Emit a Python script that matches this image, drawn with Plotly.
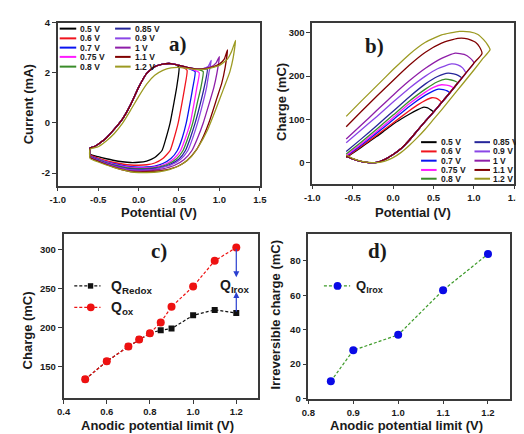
import plotly.graph_objects as go

W, H = 524, 434

# ---------------- Panel a: CV curves (Current vs Potential) ----------------
cv_labels = ["0.5 V", "0.6 V", "0.7 V", "0.75 V", "0.8 V", "0.85 V", "0.9 V", "1 V", "1.1 V", "1.2 V"]
cv_colors = ["#000000", "#f0141e", "#0a14f0", "#ff1aff", "#3a8c2a", "#26269a", "#8a46e6", "#8e1ea8", "#800000", "#9c9a22"]
cv_limits = [0.5, 0.6, 0.7, 0.75, 0.8, 0.85, 0.9, 1.0, 1.1, 1.2]

a_fwd_x = [-0.60, -0.55, -0.50, -0.40, -0.30, -0.20, -0.10, 0.00, 0.10, 0.20, 0.30, 0.40]
a_fwd_y = [-1.00, -0.95, -0.85, -0.60, -0.25, 0.15, 0.72, 1.42, 1.98, 2.25, 2.35, 2.37]

a05_x = [0.45, 0.50, 0.47, 0.44, 0.39, 0.34, 0.29, 0.20, 0.10, 0.00, -0.10, -0.20, -0.30, -0.40, -0.50, -0.60, -0.60]
a05_y = [2.35, 2.22, 1.40, 0.85, 0.00, -0.60, -1.10, -1.38, -1.52, -1.57, -1.58, -1.55, -1.50, -1.43, -1.35, -1.25, -1.00]
a06_x = [0.50, 0.55, 0.60, 0.57, 0.54, 0.49, 0.44, 0.39, 0.30, 0.20, 0.10, 0.00, -0.10, -0.20, -0.30, -0.40, -0.50, -0.60, -0.60]
a06_y = [2.30, 2.22, 2.10, 1.40, 0.85, 0.00, -0.60, -1.10, -1.42, -1.60, -1.67, -1.69, -1.68, -1.64, -1.58, -1.50, -1.40, -1.28, -1.00]
a07_x = [0.50, 0.60, 0.66, 0.70, 0.67, 0.64, 0.59, 0.54, 0.48, 0.40, 0.30, 0.20, 0.10, 0.00, -0.10, -0.20, -0.30, -0.40, -0.50, -0.60, -0.60]
a07_y = [2.30, 2.20, 2.12, 2.05, 1.40, 0.85, 0.00, -0.60, -1.10, -1.42, -1.62, -1.72, -1.76, -1.77, -1.75, -1.70, -1.63, -1.55, -1.44, -1.30, -1.00]
a075_x = [0.50, 0.60, 0.70, 0.75, 0.72, 0.69, 0.64, 0.58, 0.52, 0.44, 0.34, 0.20, 0.10, 0.00, -0.10, -0.20, -0.30, -0.40, -0.50, -0.60, -0.60]
a075_y = [2.30, 2.20, 2.10, 2.00, 1.40, 0.85, 0.00, -0.60, -1.10, -1.42, -1.63, -1.76, -1.79, -1.80, -1.78, -1.73, -1.66, -1.57, -1.46, -1.31, -1.00]
a08_x = [0.50, 0.60, 0.70, 0.77, 0.80, 0.77, 0.73, 0.67, 0.61, 0.55, 0.47, 0.36, 0.20, 0.10, 0.00, -0.10, -0.20, -0.30, -0.40, -0.50, -0.60, -0.60]
a08_y = [2.30, 2.22, 2.15, 2.10, 2.05, 1.40, 0.85, 0.00, -0.60, -1.10, -1.43, -1.65, -1.79, -1.82, -1.83, -1.81, -1.76, -1.68, -1.59, -1.47, -1.32, -1.00]
a085_x = [0.50, 0.60, 0.70, 0.80, 0.85, 0.81, 0.77, 0.70, 0.64, 0.58, 0.50, 0.38, 0.20, 0.10, 0.00, -0.10, -0.20, -0.30, -0.40, -0.50, -0.60, -0.60]
a085_y = [2.30, 2.22, 2.16, 2.15, 2.15, 1.40, 0.85, 0.00, -0.60, -1.10, -1.44, -1.67, -1.82, -1.85, -1.86, -1.84, -1.78, -1.70, -1.60, -1.48, -1.33, -1.00]
a09_x = [0.50, 0.60, 0.70, 0.80, 0.86, 0.90, 0.87, 0.84, 0.80, 0.73, 0.67, 0.61, 0.52, 0.40, 0.20, 0.10, 0.00, -0.10, -0.20, -0.30, -0.40, -0.50, -0.60, -0.60]
a09_y = [2.30, 2.22, 2.16, 2.17, 2.25, 2.50, 2.00, 1.40, 0.85, 0.00, -0.60, -1.10, -1.45, -1.68, -1.85, -1.88, -1.89, -1.87, -1.80, -1.72, -1.62, -1.50, -1.34, -1.00]
a10_x = [0.50, 0.60, 0.70, 0.80, 0.90, 0.96, 1.00, 0.97, 0.93, 0.88, 0.80, 0.73, 0.66, 0.56, 0.44, 0.30, 0.20, 0.10, 0.00, -0.10, -0.20, -0.30, -0.40, -0.50, -0.60, -0.60]
a10_y = [2.30, 2.22, 2.16, 2.17, 2.25, 2.40, 2.65, 2.00, 1.40, 0.85, 0.00, -0.60, -1.10, -1.47, -1.70, -1.83, -1.88, -1.91, -1.92, -1.90, -1.83, -1.74, -1.64, -1.51, -1.35, -1.00]
a11_x = [0.50, 0.60, 0.70, 0.80, 0.90, 1.00, 1.06, 1.10, 1.07, 1.03, 0.97, 0.88, 0.80, 0.71, 0.60, 0.48, 0.34, 0.20, 0.10, 0.00, -0.10, -0.20, -0.30, -0.40, -0.50, -0.60, -0.60]
a11_y = [2.30, 2.22, 2.16, 2.16, 2.22, 2.35, 2.55, 2.92, 2.20, 1.60, 1.00, 0.10, -0.55, -1.10, -1.50, -1.74, -1.87, -1.93, -1.95, -1.96, -1.94, -1.87, -1.77, -1.66, -1.53, -1.38, -1.00]
a12_x = [-0.60, -0.50, -0.40, -0.30, -0.20, -0.10, 0.00, 0.10, 0.20, 0.30, 0.40, 0.50, 0.60, 0.70, 0.80, 0.90, 1.00, 1.10, 1.15, 1.20,
         1.17, 1.13, 1.05, 0.95, 0.85, 0.75, 0.65, 0.52, 0.38, 0.25, 0.10, 0.00, -0.10, -0.20, -0.30, -0.40, -0.50, -0.60, -0.60]
a12_y = [-1.05, -0.95, -0.72, -0.42, -0.02, 0.50, 1.05, 1.55, 1.90, 2.10, 2.20, 2.22, 2.18, 2.14, 2.14, 2.20, 2.30, 2.55, 2.85, 3.30,
         2.60, 2.05, 1.35, 0.50, -0.30, -0.90, -1.35, -1.68, -1.86, -1.95, -1.98, -1.98, -1.95, -1.87, -1.78, -1.68, -1.56, -1.42, -1.05]

# ---------------- Panel b: Charge vs Potential ----------------
b_low_x = [-0.58, -0.50, -0.40, -0.30, -0.20, -0.10, 0.00, 0.10, 0.20, 0.30, 0.40, 0.50, 0.60, 0.70, 0.80, 0.90, 1.00, 1.10]
b_low_y = [16, 9, 3, 0.5, 1, 8, 19, 33, 52, 74, 96, 117, 139, 161, 184, 207, 230, 252]
b_low12_x = [-0.58, -0.50, -0.40, -0.30, -0.20, -0.10, 0.00, 0.10, 0.20, 0.30, 0.40, 0.50, 0.60, 0.70, 0.80, 0.90, 1.00, 1.10]
b_low12_y = [18, 10, 4, 1, 0.5, 4, 12, 24, 40, 58, 78, 100, 122, 145, 168, 191, 214, 238]

b05_x = [-0.58, -0.50, -0.40, -0.30, -0.20, -0.10, 0.00, 0.10, 0.20, 0.30, 0.37, 0.42, 0.46, 0.50]
b05_y = [12, 22, 35, 48, 61, 75, 89, 101, 112, 122, 128, 127, 123, 117]
b06_x = [-0.58, -0.40, -0.20, 0.00, 0.20, 0.30, 0.40, 0.48, 0.53, 0.57, 0.60]
b06_y = [13, 37, 64, 92, 120, 133, 144, 150, 149, 145, 139]
b07_x = [-0.58, -0.40, -0.20, 0.00, 0.20, 0.40, 0.50, 0.56, 0.62, 0.67, 0.70]
b07_y = [15, 40, 69, 99, 130, 156, 166, 170, 169, 166, 161]
b075_x = [-0.58, -0.40, -0.20, 0.00, 0.20, 0.40, 0.50, 0.60, 0.66, 0.71, 0.75]
b075_y = [17, 43, 73, 104, 136, 163, 174, 180, 179, 177, 172]
b08_x = [-0.58, -0.40, -0.20, 0.00, 0.20, 0.40, 0.55, 0.65, 0.72, 0.77, 0.80]
b08_y = [20, 47, 78, 110, 142, 170, 187, 193, 191, 188, 184]
b085_x = [-0.58, -0.40, -0.20, 0.00, 0.20, 0.40, 0.55, 0.68, 0.75, 0.81, 0.85]
b085_y = [26, 54, 86, 119, 152, 182, 199, 207, 205, 201, 195]
b09_x = [-0.58, -0.40, -0.20, 0.00, 0.20, 0.40, 0.55, 0.72, 0.80, 0.86, 0.90]
b09_y = [46, 75, 107, 140, 172, 200, 217, 228, 226, 219, 207]
b10_x = [-0.58, -0.40, -0.20, 0.00, 0.20, 0.40, 0.60, 0.77, 0.88, 0.95, 1.00]
b10_y = [55, 86, 121, 156, 189, 218, 241, 253, 250, 242, 230]
b11_x = [-0.58, -0.40, -0.20, 0.00, 0.20, 0.40, 0.60, 0.80, 0.92, 1.02, 1.07, 1.10]
b11_y = [83, 117, 154, 190, 225, 255, 276, 287, 286, 278, 267, 252]
b12_x = [-0.58, -0.40, -0.20, 0.00, 0.20, 0.40, 0.60, 0.82, 0.95, 1.05, 1.12, 1.17, 1.20]
b12_y = [107, 141, 178, 215, 250, 278, 295, 303, 302, 296, 284, 272, 261]

# ---------------- Panel c ----------------
c_x = [0.5, 0.6, 0.7, 0.75, 0.8, 0.85, 0.9, 1.0, 1.1, 1.2]
c_redox = [134, 157, 176, 185, 193, 197, 199, 216, 223, 219]
c_ox = [134, 157, 176, 185, 193, 207, 227, 253, 286, 303]

# ---------------- Panel d ----------------
d_x = [0.85, 0.9, 1.0, 1.1, 1.2]
d_irox = [10, 28, 37, 63, 84]

# tick labels
ab_xticks = [-1.0, -0.5, 0.0, 0.5, 1.0, 1.5]
ab_xtext = ["-1.0", "-0.5", "0.0", "0.5", "1.0", "1.5"]
a_yticks = [-2, 0, 2, 4]
a_ytext = ["-2", "0", "2", "4"]
b_yticks = [0, 100, 200, 300]
c_xticks = [0.4, 0.6, 0.8, 1.0, 1.2]
c_xtext = ["0.4", "0.6", "0.8", "1.0", "1.2"]
c_yticks = [150, 200, 250, 300]
d_xticks = [0.8, 0.9, 1.0, 1.1, 1.2]
d_xtext = ["0.8", "0.9", "1.0", "1.1", "1.2"]
d_yticks = [0, 20, 40, 60, 80]

SANS = "Liberation Sans, Arial, sans-serif"
SERIF = "Liberation Serif, Times New Roman, serif"
TXT = "#1a1a1a"

fig = go.Figure()

def line_trace(x, y, color, xa, ya, width=1.3):
    fig.add_trace(go.Scatter(x=x, y=y, mode="lines",
                             line=dict(color=color, width=width, shape="spline", smoothing=0.5),
                             xaxis=xa, yaxis=ya, showlegend=False, hoverinfo="skip"))

# panel a
a_tails = [(a05_x, a05_y), (a06_x, a06_y), (a07_x, a07_y), (a075_x, a075_y), (a08_x, a08_y),
           (a085_x, a085_y), (a09_x, a09_y), (a10_x, a10_y), (a11_x, a11_y)]
for i, (tx, ty) in enumerate(a_tails):
    line_trace(a_fwd_x + tx, a_fwd_y + ty, cv_colors[i], "x", "y")
line_trace(a12_x, a12_y, cv_colors[9], "x", "y")

# panel b
b_ups = [(b05_x, b05_y), (b06_x, b06_y), (b07_x, b07_y), (b075_x, b075_y), (b08_x, b08_y),
         (b085_x, b085_y), (b09_x, b09_y), (b10_x, b10_y), (b11_x, b11_y)]
for i, (ux, uy) in enumerate(b_ups):
    v = cv_limits[i]
    lx = [x for x in b_low_x if x < v - 1e-9]
    ly = [y for x, y in zip(b_low_x, b_low_y) if x < v - 1e-9]
    line_trace(lx + ux[::-1], ly + uy[::-1], cv_colors[i], "x2", "y2")
line_trace(b_low12_x + b12_x[::-1], b_low12_y + b12_y[::-1], cv_colors[9], "x2", "y2")

# panel c
fig.add_trace(go.Scatter(x=c_x, y=c_redox, mode="lines+markers",
                         line=dict(color="#111111", width=1.2, dash="3px,2px"),
                         marker=dict(symbol="square", size=6, color="#111111"),
                         xaxis="x3", yaxis="y3", showlegend=False, hoverinfo="skip"))
fig.add_trace(go.Scatter(x=c_x, y=c_ox, mode="lines+markers",
                         line=dict(color="#ee1111", width=1.2, dash="3px,2px"),
                         marker=dict(symbol="circle", size=8, color="#ee1111"),
                         xaxis="x3", yaxis="y3", showlegend=False, hoverinfo="skip"))

# panel d
fig.add_trace(go.Scatter(x=d_x, y=d_irox, mode="lines+markers",
                         line=dict(color="#3c9a28", width=1.2, dash="3px,2px"),
                         marker=dict(symbol="circle", size=8, color="#0a0ae6"),
                         xaxis="x4", yaxis="y4", showlegend=False, hoverinfo="skip"))

TF = dict(family=SANS, size=9.5, color=TXT, weight="bold")

def axis(domain, rng, tickvals, ticktext, anchor):
    d = dict(domain=domain, range=rng, tickmode="array", tickvals=tickvals,
             showline=True, mirror=True, linecolor="#3a3a3a", linewidth=1.6,
             ticks="outside", ticklen=4, tickwidth=1.2, tickcolor="#3a3a3a",
             showgrid=False, zeroline=False, tickfont=TF, anchor=anchor)
    if ticktext is not None:
        d["ticktext"] = ticktext
    return d

def px(x):
    return x / W

def py(y):
    return 1 - y / H

fig.update_layout(
    width=W, height=H, margin=dict(l=0, r=0, t=0, b=0),
    paper_bgcolor="white", plot_bgcolor="white",
    xaxis=axis([px(43), px(251)], [-1.0, 1.5], ab_xticks, ab_xtext, "y"),
    yaxis=axis([py(176), py(9)], [-2.5, 4.0], a_yticks, a_ytext, "x"),
    xaxis2=axis([px(305), px(513)], [-1.0, 1.5], ab_xticks, ab_xtext, "y2"),
    yaxis2=axis([py(174), py(9)], [-48, 323], b_yticks, None, "x2"),
    xaxis3=axis([px(49), px(249)], [0.4, 1.3], c_xticks, c_xtext, "y3"),
    yaxis3=axis([py(394), py(226)], [110, 320], c_yticks, None, "x3"),
    xaxis4=axis([px(301), px(509)], [0.8, 1.25], d_xticks, d_xtext, "y4"),
    yaxis4=axis([py(394.5), py(226)], [0, 95.5], d_yticks, None, "x4"),
)

ann = []
shapes = []

def text(xp, yp, s, size=13, angle=0, xanchor="center", family=SANS):
    ann.append(dict(x=px(xp), y=py(yp), xref="paper", yref="paper", text=s, showarrow=False,
                    textangle=angle, xanchor=xanchor, yanchor="middle",
                    font=dict(family=family, size=size, color=TXT, weight="bold")))

# axis titles
text(147, 204, "Potential (V)")
text(13, 93, "Current (mA)", angle=-90)
text(409, 204, "Potential (V)")
text(274, 90, "Charge (mC)", angle=-90)
text(146, 422, "Anodic potential limit (V)")
text(12, 325, "Charge (mC)", angle=-90)
text(402, 422, "Anodic potential limit (V)")
text(267, 308, "Irreversible charge (mC)", angle=-90)

# panel labels
text(167, 31, "a)", size=21, family=SERIF)
text(369, 33, "b)", size=21, family=SERIF)
text(147, 243, "c)", size=21, family=SERIF)
text(372, 243, "d)", size=21, family=SERIF)

def leg_line(x0, x1, yv, color, width=2.0, dash=None):
    ln = dict(color=color, width=width)
    if dash:
        ln["dash"] = dash
    shapes.append(dict(type="line", xref="paper", yref="paper", x0=px(x0), x1=px(x1),
                       y0=py(yv), y1=py(yv), line=ln))

def leg_text(xp, yp, s, size=8.5):
    ann.append(dict(x=px(xp), y=py(yp), xref="paper", yref="paper", text=s, showarrow=False,
                    xanchor="left", yanchor="middle",
                    font=dict(family=SANS, size=size, color=TXT, weight="bold")))

# legend a (two columns)
rows_a = [15, 25, 34.5, 44, 54]
for i in range(10):
    col, row = divmod(i, 5)
    yv = rows_a[row]
    if col == 0:
        leg_line(45, 62, yv, cv_colors[i]); leg_text(64, yv, cv_labels[i])
    else:
        leg_line(102, 118, yv, cv_colors[i]); leg_text(120, yv, cv_labels[i])

# legend b
rows_b = [131.5, 141, 150.5, 160, 169]
for i in range(10):
    col, row = divmod(i, 5)
    yv = rows_b[row]
    if col == 0:
        leg_line(417, 433, yv, cv_colors[i]); leg_text(435, yv, cv_labels[i])
    else:
        leg_line(472, 488, yv, cv_colors[i]); leg_text(489, yv, cv_labels[i])

# legend c
leg_line(60, 87, 279, "#111111", width=1.2, dash="3px,2px")
shapes.append(dict(type="rect", xref="paper", yref="paper", x0=px(74), x1=px(79.5), y0=py(281.8), y1=py(276.2),
                   fillcolor="#111111", line=dict(width=0)))
leg_text(96, 280, "Q<sub>Redox</sub>", size=14)
leg_line(60, 87, 301, "#ee1111", width=1.2, dash="3px,2px")
shapes.append(dict(type="circle", xref="paper", yref="paper", x0=px(73), x1=px(81), y0=py(305), y1=py(297),
                   fillcolor="#ee1111", line=dict(width=0)))
leg_text(96, 302, "Q<sub>ox</sub>", size=14)

# legend d
leg_line(317, 344, 279, "#3c9a28", width=1.2, dash="3px,2px")
shapes.append(dict(type="circle", xref="paper", yref="paper", x0=px(327), x1=px(335), y0=py(283), y1=py(275),
                   fillcolor="#0a0ae6", line=dict(width=0)))
leg_text(348, 280, "Q<sub>Irox</sub>", size=13)

# arrows in panel c
ann.append(dict(x=1.2, y=265, ax=1.2, ay=303, xref="x3", yref="y3", axref="x3", ayref="y3",
                text="", showarrow=True, arrowhead=2, arrowsize=1, arrowwidth=1.2, arrowcolor="#2a3fd0"))
ann.append(dict(x=1.2, y=246, ax=1.2, ay=219, xref="x3", yref="y3", axref="x3", ayref="y3",
                text="", showarrow=True, arrowhead=2, arrowsize=1, arrowwidth=1.2, arrowcolor="#2a3fd0"))
ann.append(dict(x=1.193, y=254, xref="x3", yref="y3", text="Q<sub>Irox</sub>", showarrow=False,
                xanchor="center", yanchor="middle",
                font=dict(family=SANS, size=14, color=TXT, weight="bold")))

fig.update_layout(annotations=ann, shapes=shapes)
fig.write_html("out.html")
